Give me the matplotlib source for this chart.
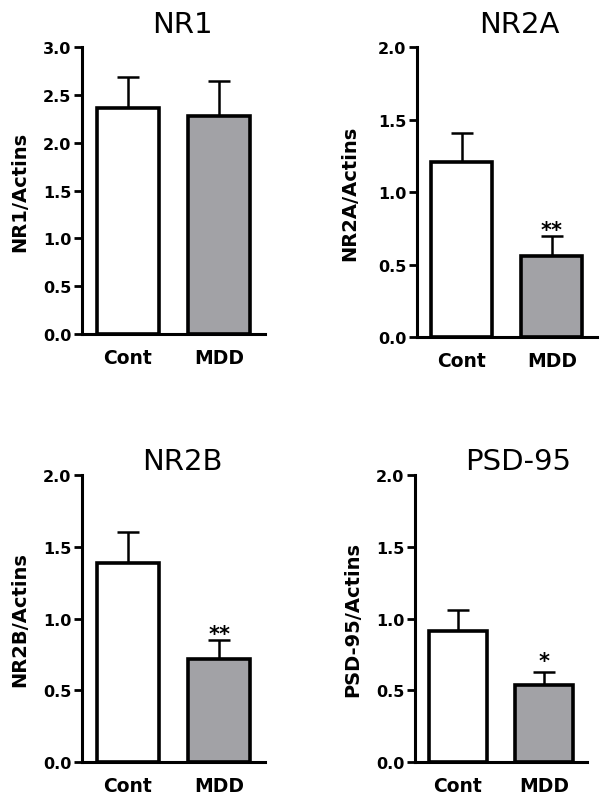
import matplotlib
matplotlib.use("Agg")
import matplotlib.pyplot as plt
import numpy as np

groups = ["Cont", "MDD"]
titles = ["NR1", "NR2A", "NR2B", "PSD-95"]
ylabels = ["NR1/Actins", "NR2A/Actins", "NR2B/Actins", "PSD-95/Actins"]
means_nr1 = [2.36, 2.28]
means_nr2a = [1.21, 0.56]
means_nr2b = [1.39, 0.72]
means_psd95 = [0.91, 0.54]
sem_nr1 = [0.33, 0.37]
sem_nr2a = [0.20, 0.14]
sem_nr2b = [0.21, 0.13]
sem_psd95 = [0.15, 0.09]
stars = [["", ""], ["", "**"], ["", "**"], ["", "*"]]
ymax = [3.0, 2.0, 2.0, 2.0]

means = [means_nr1, means_nr2a, means_nr2b, means_psd95]
sems = [sem_nr1, sem_nr2a, sem_nr2b, sem_psd95]

rects = [(0.1358, 0.5828, 0.303, 0.3574),
         (0.690, 0.579, 0.298, 0.361),
         (0.1358, 0.0498, 0.303, 0.3574),
         (0.687, 0.0498, 0.285, 0.3574)]
title_x = [0.546, 0.572, 0.55, 0.60]
title_pad = [11, 11, 0.8, 0.8]
label_x = [-0.34, -0.37, -0.34, -0.36]
star_off = [0, 0, 0, 3.5]

plt.rcParams['font.family'] = ['DejaVu Sans']
fig = plt.figure(figsize=(6.04, 8.03), dpi=100)
colors = ["white", "#a2a2a6"]
x = np.arange(len(groups))

for i in range(4):
    ax = fig.add_axes(rects[i])
    ax.errorbar(x, means[i], yerr=[np.zeros(2), sems[i]], fmt='none',
                ecolor='black', elinewidth=1.8, capsize=8, capthick=1.8, zorder=1)
    ax.bar(x, means[i], width=0.68, color=colors, edgecolor='black',
           linewidth=2.6, zorder=2)
    for j in range(2):
        if stars[i][j]:
            ax.annotate(stars[i][j], (x[j], means[i][j] + sems[i][j]),
                        xytext=(0, star_off[i]), textcoords='offset points',
                        ha='center', va='baseline', fontsize=15, fontweight='bold')
    ax.set_xlim(-0.5, 1.5)
    ax.set_ylim(0, ymax[i])
    ax.set_yticks(np.arange(0, ymax[i] + 0.01, 0.5))
    ax.set_yticklabels([f"{v:.1f}" for v in np.arange(0, ymax[i] + 0.01, 0.5)],
                       fontsize=11.5, fontweight='bold')
    ax.set_xticks(x)
    ax.set_xticklabels(groups, fontsize=13.5, fontweight='bold')
    ax.tick_params(axis='x', length=0, pad=10)
    ax.tick_params(axis='y', length=6, width=2, pad=1.5)
    for s in ['top', 'right']:
        ax.spines[s].set_visible(False)
    for s in ['left', 'bottom']:
        ax.spines[s].set_linewidth(2.2)
    ax.set_ylabel(ylabels[i], fontsize=14, fontweight='bold')
    ax.yaxis.label.set_va('center')
    ax.yaxis.set_label_coords(label_x[i], 0.5)
    ax.set_title(titles[i], fontsize=21, x=title_x[i], pad=title_pad[i])

fig.savefig("out.png", dpi=100)
